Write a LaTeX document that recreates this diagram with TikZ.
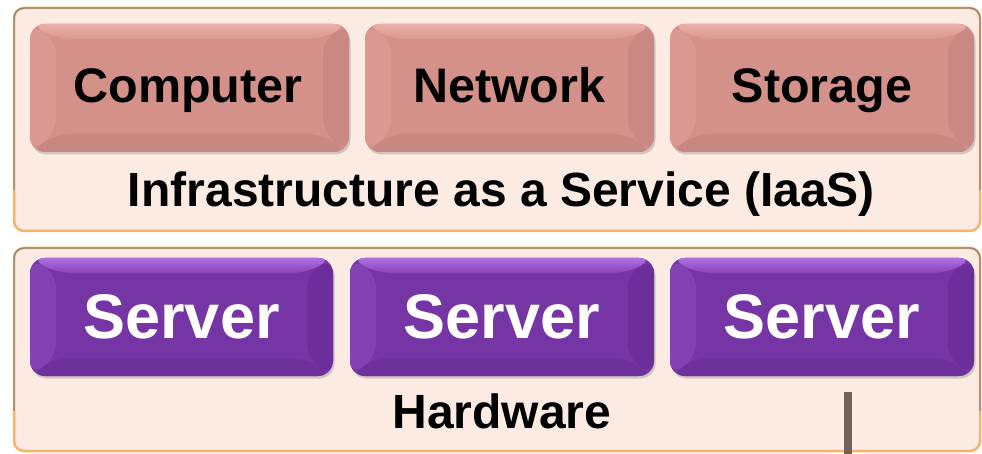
\documentclass[tikz,border=0pt]{standalone}
\usepackage{fontspec}
\setmainfont{Liberation Sans}
\usetikzlibrary{shadows}

\definecolor{panelfill}{HTML}{FBEBE3}
\definecolor{panelline}{HTML}{8C8079}
\definecolor{panelglow}{HTML}{F4B46C}
\definecolor{salface}{HTML}{D4918A}
\definecolor{saltop}{HTML}{EBAEA6}
\definecolor{saltopend}{HTML}{D8978F}
\definecolor{salbottom}{HTML}{C88780}
\definecolor{salleft}{HTML}{D99A93}
\definecolor{salright}{HTML}{C98982}
\definecolor{purface}{HTML}{7535A5}
\definecolor{purtop}{HTML}{B070E4}
\definecolor{purtopend}{HTML}{8544B8}
\definecolor{purbottom}{HTML}{6D319C}
\definecolor{purleft}{HTML}{8142B3}
\definecolor{purright}{HTML}{6B2E9B}
\definecolor{stemcol}{HTML}{6E6259}

\tikzset{
  panel/.style={fill=panelfill, rounded corners=10pt},
  % bevelled button: face colour plus edge bands (top, bottom, left, right)
  bevel/.style n args={6}{
    rounded corners=15pt, fill=#1, inner sep=0pt,
    drop shadow={shadow xshift=1.5pt, shadow yshift=-2.5pt, opacity=0.35},
    path picture={
      \fill[#5]
        (path picture bounding box.north west) -- (path picture bounding box.south west)
        -- ([xshift=26pt,yshift=18pt]path picture bounding box.south west)
        -- ([xshift=26pt,yshift=-15pt]path picture bounding box.north west) -- cycle;
      \fill[#6]
        (path picture bounding box.north east) -- (path picture bounding box.south east)
        -- ([xshift=-26pt,yshift=18pt]path picture bounding box.south east)
        -- ([xshift=-26pt,yshift=-15pt]path picture bounding box.north east) -- cycle;
      \fill[top color=#2, bottom color=#3]
        (path picture bounding box.north west) -- (path picture bounding box.north east)
        -- ([xshift=-26pt,yshift=-15pt]path picture bounding box.north east)
        -- ([xshift=26pt,yshift=-15pt]path picture bounding box.north west) -- cycle;
      \fill[#4]
        (path picture bounding box.south west) -- (path picture bounding box.south east)
        -- ([xshift=-26pt,yshift=18pt]path picture bounding box.south east)
        -- ([xshift=26pt,yshift=18pt]path picture bounding box.south west) -- cycle;
    }},
  salbtn/.style={bevel={salface}{saltop}{saltopend}{salbottom}{salleft}{salright},
    minimum height=128pt},
  purbtn/.style={bevel={purface}{purtop}{purtopend}{purbottom}{purleft}{purright},
    minimum height=118pt, minimum width=304pt},
  saltext/.style={anchor=base, inner sep=0pt, font=\bfseries\fontsize{48.5}{56}\selectfont},
  purtext/.style={anchor=base, inner sep=0pt, text=white, font=\bfseries\fontsize{63}{72}\selectfont},
  caption/.style={anchor=base, inner sep=0pt, font=\bfseries\fontsize{48}{56}\selectfont},
  stem/.style={draw=stemcol, line width=8pt}
}

\begin{document}
\begin{tikzpicture}[x=1pt, y=-1pt]
\useasboundingbox (0,0) rectangle (982,454);

% upper layer panel
\fill[panel] (14,8) rectangle (980,231);
\draw[panelglow, line width=2.5pt, rounded corners=10pt] (14,8) rectangle (980,231);
\begin{scope}
  \clip (0,0) rectangle (982,190);
  \draw[panelline, line width=1.2pt, rounded corners=10pt] (14,8) rectangle (980,231);
\end{scope}

% lower layer panel
\fill[panel] (14,248) rectangle (980,451);
\draw[panelglow, line width=2.5pt, rounded corners=10pt] (14,248) rectangle (980,451);
\begin{scope}
  \clip (0,240) rectangle (982,410);
  \draw[panelline, line width=1.2pt, rounded corners=10pt] (14,248) rectangle (980,451);
\end{scope}

% IaaS resources
\node[salbtn, minimum width=319pt] (computer) at (189.5,88) {};
\node[salbtn, minimum width=289pt] (network)  at (509.5,88) {};
\node[salbtn, minimum width=304pt] (storage)  at (822,88) {};
\node[saltext] (computertxt) at (188,103) {Computer};
\node[saltext] (networktxt)  at (509.5,103) {Network};
\node[saltext] (storagetxt)  at (822,103) {Storage};
\node[caption] (iaas) at (501.5,207) {Infrastructure as a Service (IaaS)};

% hardware servers
\node[purbtn, minimum width=303pt] (server1) at (181.5,317) {};
\node[purbtn] (server2) at (502,317) {};
\node[purbtn] (server3) at (822,317) {};
\node[purtext] (server1txt) at (181.5,338) {Server};
\node[purtext] (server2txt) at (502,338) {Server};
\node[purtext] (server3txt) at (822,338) {Server};
\node[caption] (hardware) at (502,428) {Hardware};

% line leaving the hardware layer
\coordinate (stemtop) at (848,392);
\coordinate (stemend) at (848,454);
\draw[stem] (stemtop) -- (stemend);
\end{tikzpicture}
\end{document}
